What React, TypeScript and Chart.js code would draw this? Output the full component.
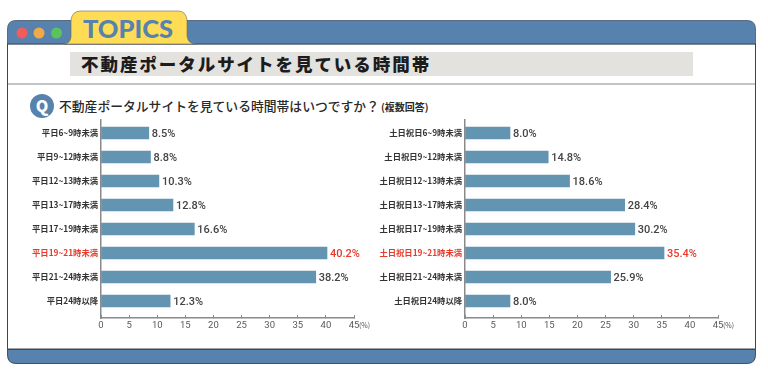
import React, { useEffect, useRef } from "react";
import { Chart, registerables } from "chart.js";

Chart.register(...registerables);

const weekdayLabels = ["平日6~9時未満", "平日9~12時未満", "平日12~13時未満", "平日13~17時未満", "平日17~19時未満", "平日19~21時未満", "平日21~24時未満", "平日24時以降"];
const weekdayValues = [8.5, 8.8, 10.3, 12.8, 16.6, 40.2, 38.2, 12.3];
const holidayLabels = ["土日祝日6~9時未満", "土日祝日9~12時未満", "土日祝日12~13時未満", "土日祝日13~17時未満", "土日祝日17~19時未満", "土日祝日19~21時未満", "土日祝日21~24時未満", "土日祝日24時以降"];
const holidayValues = [8.0, 14.8, 18.6, 28.4, 30.2, 35.4, 25.9, 8.0];
const highlightIndex = 5;
const xTicks = [0, 5, 10, 15, 20, 25, 30, 35, 40, 45];

const JP = '"Noto Sans CJK JP", "Noto Sans", sans-serif';
const NUM = '"Roboto", sans-serif';
const RED = "#e8392a";
const BAR = "#6395b2";
const AXIS = "#8a8a8a";

const valueLabels = {
  id: "valueLabels",
  afterDatasetsDraw(chart: any) {
    const { ctx } = chart;
    const ds = chart.data.datasets[0];
    ctx.save();
    ctx.textBaseline = "middle";
    ctx.textAlign = "left";
    ds.data.forEach((d: any, i: number) => {
      ctx.fillStyle = i === highlightIndex ? RED : "#444";
      ctx.font = `500 11px ${NUM}`;
      ctx.fillText(d.x.toFixed(1) + "%", chart.scales.x.getPixelForValue(d.x) + 3, chart.scales.y.getPixelForValue(d.y) + 1);
    });
    ctx.fillStyle = "#555";
    ctx.font = `7px ${JP}`;
    ctx.fillText("(%)", chart.scales.x.getPixelForValue(45) + 5, chart.chartArea.bottom + 7);
    ctx.restore();
  },
};

function Bars({ labels, values, left }: { labels: string[]; values: number[]; left: number }) {
  const ref = useRef<HTMLCanvasElement>(null);
  useEffect(() => {
    const chart = new Chart(ref.current!, {
      type: "bar",
      data: {
        datasets: [
          {
            data: values.map((v, i) => ({ x: v, y: i })),
            backgroundColor: BAR,
            barThickness: 12,
          },
        ],
      },
      plugins: [valueLabels],
      options: {
        indexAxis: "y",
        animation: false,
        responsive: false,
        layout: { padding: { top: 10, right: 26, bottom: 0, left: 0 } },
        plugins: { legend: { display: false }, tooltip: { enabled: false } },
        scales: {
          x: {
            type: "linear",
            min: 0,
            max: 45,
            afterFit: (s: any) => { s.height = 22; },
            afterBuildTicks: (s: any) => { s.ticks = xTicks.map((value) => ({ value })); },
            border: { color: AXIS, width: 1.5 },
            grid: { drawOnChartArea: false, drawTicks: true, tickLength: -3, color: AXIS, lineWidth: 1 },
            ticks: { color: "#5a5a5a", padding: 5, maxRotation: 0, autoSkip: false, font: { family: NUM, size: 9.5 } },
          },
          y: {
            type: "linear",
            reverse: true,
            offset: false,
            min: -0.54,
            max: 7.71,
            afterFit: (s: any) => { s.width = 101; },
            afterBuildTicks: (s: any) => { s.ticks = labels.map((_, value) => ({ value })); },
            border: { color: AXIS, width: 1.5 },
            grid: { display: false, offset: false, drawTicks: false },
            ticks: {
              padding: 3,
              autoSkip: false,
              callback: (v: any) => labels[v as number],
              color: (c: any) => (c.tick.value === highlightIndex ? RED : "#333"),
              font: { family: JP, size: 8.3, weight: "bold" },
            },
          },
        },
      },
    } as any);
    return () => chart.destroy();
  }, []);
  return <canvas ref={ref} width={380} height={230} style={{ position: "absolute", left, top: 110 }} />;
}

export default function App() {
  return (
    <div style={{ position: "fixed", left: 0, top: 0, width: 768, height: 378, background: "#fff", overflow: "hidden" }}>
      <svg width={768} height={378} style={{ position: "absolute", left: 0, top: 0 }}>
        <path d="M7.5 44 V29 Q7.5 20.5 16 20.5 H747 Q755.5 20.5 755.5 29 V44 Z" fill="#5682ad" stroke="#44586c" strokeWidth={0.8} />
        <rect x={7.5} y={44} width={748} height={305} fill="#fff" stroke="#444" strokeWidth={1} />
        <path d="M7.5 349.5 H755.5 V355 Q755.5 363.5 747 363.5 H16 Q7.5 363.5 7.5 355 Z" fill="#5682ad" stroke="#333" strokeWidth={0.8} />
        <line x1={8} x2={755} y1={84} y2={84} stroke="#8a8a8a" strokeWidth={1} />
        <line x1={8} x2={755} y1={44} y2={44} stroke="#5f6f7f" strokeWidth={1} />
        <circle cx={22} cy={33} r={5.5} fill="#f25c5c" />
        <circle cx={39} cy={33} r={5.5} fill="#f0a948" />
        <circle cx={56.5} cy={33} r={5.5} fill="#5cc35c" />
        <path d="M64 44 Q70 44 71 37 V20 Q72 11 81 11 H178 Q186 11 187 20 V36 Q188 44 196 44 Z" fill="#ffdc55" stroke="#6a6a50" strokeWidth={0.6} />
        <text x={83} y={38} fill="#5682ad" fontFamily="Lato, sans-serif" fontWeight={900} fontSize={25.5}>TOPICS</text>
        <rect x={70} y={52} width={623} height={24} fill="#e4e2df" />
        <text x={81} y={71} fill="#1c1c1c" fontFamily={JP} fontWeight={900} fontSize={17.5} letterSpacing={1.95}>不動産ポータルサイトを見ている時間帯</text>
        <circle cx={42} cy={106} r={12} fill="#5682ad" />
        <text x={42} y={112} textAnchor="middle" fill="#fff" fontFamily={JP} fontWeight={900} fontSize={16}>Q</text>
        <text x={59} y={111} fill="#2a2a2a" fontFamily={JP} fontWeight={500} fontSize={12.8}>不動産ポータルサイトを見ている時間帯はいつですか？</text>
        <text x={381} y={111} fill="#2a2a2a" fontFamily={JP} fontWeight={700} fontSize={10}>(複数回答)</text>
      </svg>
      <Bars labels={weekdayLabels} values={weekdayValues} left={0} />
      <Bars labels={holidayLabels} values={holidayValues} left={364} />
    </div>
  );
}
